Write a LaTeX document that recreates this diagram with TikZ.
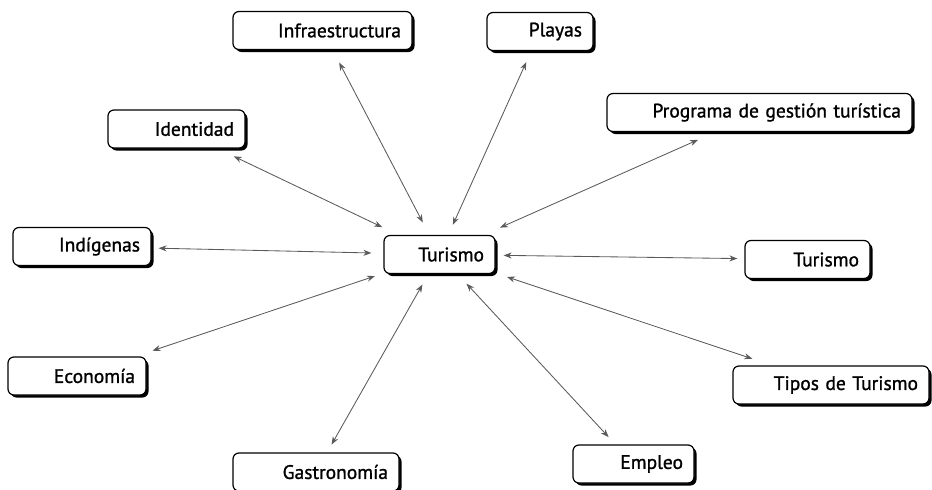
\documentclass[tikz,border=0pt]{standalone}
\usepackage{fontspec}
\setmainfont[FakeBold=1.2, WordSpace=0.6]{PT Sans}
\usetikzlibrary{arrows.meta,shadows}
\definecolor{arr}{RGB}{90,90,90}
\begin{document}
\begin{tikzpicture}[x=1pt,y=-1pt,
  box/.style={draw=black, line width=1.2pt, rounded corners=6pt, fill=white,
    minimum height=38pt, inner xsep=11pt, inner ysep=2pt, align=right,
    font=\fontsize{19.5}{22}\selectfont,
    drop shadow={shadow xshift=2.5pt, shadow yshift=-2.5pt, fill=black, opacity=1}},
  link/.style={draw=arr, line width=0.85pt,
    {Stealth[length=8pt,width=6pt]}-{Stealth[length=8pt,width=6pt]}}]
\useasboundingbox (0,0) rectangle (932,490);

\node[box, text width=89pt]  (T)      at (439.5,254.5) {Turismo};
\node[box, text width=157pt] (infra)  at (322.5,30.5)  {Infraestructura};
\node[box, text width=84pt]  (playas) at (540,31.5)    {Playas};
\node[box, text width=115pt] (ident)  at (176.5,129)   {Identidad};
\node[box, text width=283pt] (prog)   at (759.5,112.5) {Programa de gestión turística};
\node[box, text width=116pt] (indig)  at (82,246.5)    {Indígenas};
\node[box, text width=103pt] (tur2)   at (807.5,259.5) {Turismo};
\node[box, text width=116pt] (econ)   at (77,376)      {Economía};
\node[box, text width=174pt] (tipos)  at (831,385)     {Tipos de Turismo};
\node[box, text width=144pt] (gastro) at (316,472)     {Gastronomía};
\node[box, text width=99pt]  (empleo) at (633.5,464)   {Empleo};

\draw[link, shorten <=14pt, shorten >=14pt] (T) -- (infra);
\draw[link, shorten <=11pt, shorten >=12pt] (T) -- (playas);
\draw[link, shorten <=18pt, shorten >=18pt] (T) -- (ident);
\draw[link, shorten <=18pt, shorten >=19pt] (T) -- (prog);
\draw[link, shorten <=12pt, shorten >=7pt]  (T) -- (indig);
\draw[link, shorten <=8pt,  shorten >=7pt]  (T) -- (tur2);
\draw[link, shorten <=9pt,  shorten >=18pt] (T) -- (econ);
\draw[link, shorten <=12pt, shorten >=21pt] (T) -- (tipos);
\draw[link, shorten <=12pt, shorten >=9pt]  (T) -- (gastro);
\draw[link, shorten <=13pt, shorten >=10pt] (T) -- (empleo);
\end{tikzpicture}
\end{document}
